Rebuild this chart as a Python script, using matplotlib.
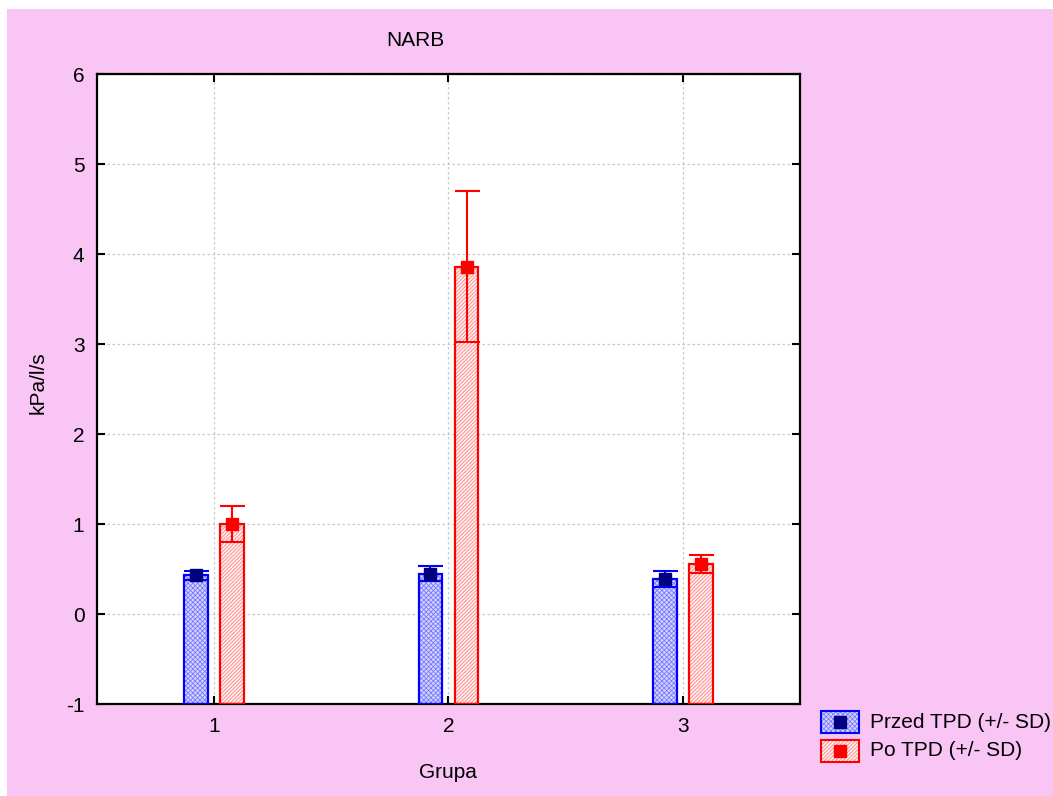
import matplotlib
matplotlib.use("Agg")
import matplotlib.pyplot as plt
from matplotlib.patches import Rectangle
from matplotlib.lines import Line2D
import numpy as np

plt.rcParams['font.family'] = ['Liberation Sans', 'DejaVu Sans']
plt.rcParams['hatch.linewidth'] = 0.6
plt.rcParams['axes.unicode_minus'] = False

# Data
groups = [1, 2, 3]
group_labels = ["1", "2", "3"]
przed_mean = [0.43, 0.45, 0.39]
przed_sd = [0.05, 0.08, 0.09]
po_mean = [1.00, 3.86, 0.56]
po_sd = [0.20, 0.84, 0.10]
series_labels = ["Przed TPD (+/- SD)", "Po TPD (+/- SD)"]
y_ticks = [-1, 0, 1, 2, 3, 4, 5, 6]

W, H = 1053, 796
fig = plt.figure(figsize=(W / 100, H / 100), dpi=100)
fig.patch.set_facecolor("white")
pink = "#F8C5F4"
fig.add_artist(Rectangle((7 / W, 0), 1 - 7 / W, 1 - 9 / H, transform=fig.transFigure,
                         facecolor=pink, edgecolor="none", zorder=-10))

ax = fig.add_axes([97 / W, 1 - 704 / H, (800 - 97) / W, (704 - 74) / H])
ax.set_facecolor("white")

x = np.array(groups, dtype=float)
off = 0.077
bw = 0.10
base = -1.0

blue_style = ("#d4d4ff", "#7a7aff", "#0000ff", "#000080", "xxxxxxx")
red_style = ("#fff0f0", "#ff8080", "#ff0000", "#ff0000", "/////////")

for xs, mean, sd, style in [(x - off, przed_mean, przed_sd, blue_style),
                            (x + off, po_mean, po_sd, red_style)]:
    fill, hatchc, edge, mcol, hatch = style
    heights = np.array(mean) - base
    ax.bar(xs, heights, bw, bottom=base, color=fill, edgecolor=hatchc,
           hatch=hatch, linewidth=0, zorder=2)
    ax.bar(xs, heights, bw, bottom=base, color="none", edgecolor=edge,
           linewidth=1.6, zorder=3)
    ax.errorbar(xs, mean, yerr=sd, fmt="none", ecolor=edge, elinewidth=1.5,
                capsize=9, capthick=1.5, zorder=4)
    ax.plot(xs, mean, "s", color=mcol, markersize=8.5, zorder=5, linestyle="none")

ax.set_xlim(0.5, 3.5)
ax.set_ylim(-1, 6)
ax.set_xticks(groups)
ax.set_xticklabels(group_labels)
ax.set_yticks(y_ticks)
ax.tick_params(direction="in", length=6, width=1.5, top=True, right=True,
               labelsize=15, pad=9)
ax.grid(True, color="#c8c8c8", linestyle=(0, (2, 2)), linewidth=0.9, zorder=0)
ax.set_axisbelow(True)
for s in ax.spines.values():
    s.set_linewidth(1.6)
    s.set_color("black")

fig.text(415 / W, 1 - 40 / H, "NARB", ha="center", va="center", fontsize=15)
fig.text(448 / W, 1 - 772 / H, "Grupa", ha="center", va="center", fontsize=15)
fig.text(38 / W, 1 - 383 / H, "kPa/l/s", ha="center", va="center",
         rotation=90, fontsize=15)

# Legend drawn in figure coordinates
for yc, style, lab in [(722, blue_style, series_labels[0]),
                       (751, red_style, series_labels[1])]:
    fill, hatchc, edge, mcol, hatch = style
    rx, ry, rw, rh = 821, yc - 11, 38, 22
    fig.add_artist(Rectangle((rx / W, 1 - (ry + rh) / H), rw / W, rh / H,
                             transform=fig.transFigure, facecolor=fill,
                             edgecolor=hatchc, hatch=hatch, linewidth=0))
    fig.add_artist(Rectangle((rx / W, 1 - (ry + rh) / H), rw / W, rh / H,
                             transform=fig.transFigure, facecolor="none",
                             edgecolor=edge, linewidth=1.5))
    fig.add_artist(Line2D([(rx + rw / 2) / W], [1 - yc / H], marker="s",
                          color=mcol, markersize=8, transform=fig.transFigure))
    fig.text(870 / W, 1 - yc / H, lab, ha="left", va="center", fontsize=15)

fig.savefig("out.png", dpi=100, facecolor=fig.get_facecolor())
